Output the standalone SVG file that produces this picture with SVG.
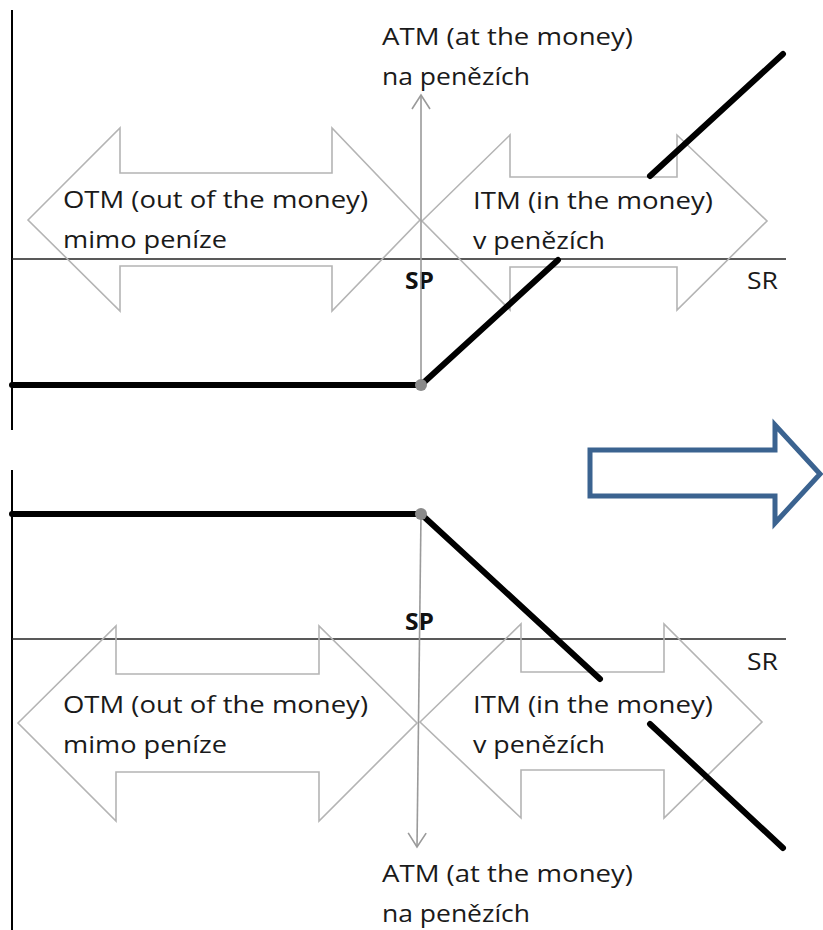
<svg xmlns="http://www.w3.org/2000/svg" width="823" height="930" viewBox="0 0 823 930">
  <style>
    .axis { stroke: #000; stroke-width: 2; fill: none; }
    .hax { stroke: #222; stroke-width: 1.6; fill: none; }
    .payoff { stroke: #000; stroke-width: 6; fill: none; stroke-linecap: round; }
    .zone { fill: none; stroke: #b4b4b4; stroke-width: 1.6; stroke-linejoin: miter; }
    .atm { stroke: #9a9a9a; stroke-width: 1.6; fill: none; }
    .dot { fill: #8a8a8a; }
    .lbl { font-family: "Open Sans", "Liberation Sans", sans-serif; font-size: 24px; fill: #1a1a1a; }
    .sp { font-family: "Open Sans", "Liberation Sans", sans-serif; font-size: 24px; font-weight: bold; fill: #111; }
    .next { fill: #fff; stroke: #3b6390; stroke-width: 5; stroke-linejoin: miter; }
  </style>
  <defs>
    <marker id="open" viewBox="0 0 20 20" refX="18" refY="10" markerWidth="20" markerHeight="20" markerUnits="userSpaceOnUse" orient="auto">
      <path d="M4,1 L18,10 L4,19" fill="none" stroke="#9a9a9a" stroke-width="1.6"/>
    </marker>
  </defs>

  <!-- upper chart: long call -->
  <g id="call-axes">
    <line class="axis" x1="12" y1="10" x2="12" y2="430"/>
    <line class="hax" x1="12" y1="259" x2="786" y2="259"/>
  </g>
  <g id="call-otm">
    <polygon class="zone" points="28,220 120,128 120,173 332,173 332,128 420,220 332,311 332,266 120,266 120,311"/>
    <text class="lbl" x="63" y="208" textLength="305" lengthAdjust="spacingAndGlyphs">OTM (out of the money)</text>
    <text class="lbl" x="63" y="248" textLength="164" lengthAdjust="spacingAndGlyphs">mimo peníze</text>
  </g>
  <g id="call-itm">
    <polygon class="zone" points="422,221 510,135 510,177 677,177 677,135 767,221 677,310 677,267 510,267 510,310"/>
    <text class="lbl" x="473" y="209" textLength="240" lengthAdjust="spacingAndGlyphs">ITM (in the money)</text>
    <text class="lbl" x="473" y="249" textLength="132" lengthAdjust="spacingAndGlyphs">v penězích</text>
  </g>
  <g id="call-atm">
    <text class="lbl" x="382" y="45" textLength="251" lengthAdjust="spacingAndGlyphs">ATM (at the money)</text>
    <text class="lbl" x="382" y="85" textLength="148" lengthAdjust="spacingAndGlyphs">na penězích</text>
  </g>
  <g id="call-labels">
    <text class="sp" x="405" y="289" textLength="29" lengthAdjust="spacingAndGlyphs">SP</text>
    <text class="lbl" x="747" y="289" textLength="31" lengthAdjust="spacingAndGlyphs">SR</text>
  </g>
  <g id="call-connectors">
    <line class="atm" x1="421" y1="385" x2="421" y2="95" marker-end="url(#open)"/>
    <line class="payoff" x1="12" y1="385" x2="421" y2="385" stroke-linecap="butt"/>
    <line class="payoff" x1="421" y1="385" x2="558" y2="260"/>
    <line class="payoff" x1="650" y1="176" x2="783" y2="54"/>
    <circle class="dot" cx="421" cy="385" r="6"/>
  </g>

  <!-- transition arrow -->
  <g id="next-arrow">
    <polygon class="next" points="590,450 775,450 775,425 820,474 775,523 775,496 590,496"/>
  </g>

  <!-- lower chart: long put -->
  <g id="put-axes">
    <line class="axis" x1="12" y1="470" x2="12" y2="930"/>
    <line class="hax" x1="12" y1="639" x2="786" y2="639"/>
  </g>
  <g id="put-otm">
    <polygon class="zone" points="18,723 116,626 116,674 319,674 319,626 417,723 319,821 319,772 116,772 116,821"/>
    <text class="lbl" x="63" y="713" textLength="305" lengthAdjust="spacingAndGlyphs">OTM (out of the money)</text>
    <text class="lbl" x="63" y="753" textLength="164" lengthAdjust="spacingAndGlyphs">mimo peníze</text>
  </g>
  <g id="put-itm">
    <polygon class="zone" points="420,722 521,624 521,672 664,672 664,624 762,722 664,818 664,770 521,770 521,818"/>
    <text class="lbl" x="473" y="713" textLength="240" lengthAdjust="spacingAndGlyphs">ITM (in the money)</text>
    <text class="lbl" x="473" y="753" textLength="132" lengthAdjust="spacingAndGlyphs">v penězích</text>
  </g>
  <g id="put-atm">
    <text class="lbl" x="382" y="882" textLength="251" lengthAdjust="spacingAndGlyphs">ATM (at the money)</text>
    <text class="lbl" x="382" y="922" textLength="148" lengthAdjust="spacingAndGlyphs">na penězích</text>
  </g>
  <g id="put-labels">
    <text class="sp" x="405" y="630" textLength="29" lengthAdjust="spacingAndGlyphs">SP</text>
    <text class="lbl" x="747" y="670" textLength="31" lengthAdjust="spacingAndGlyphs">SR</text>
  </g>
  <g id="put-connectors">
    <line class="atm" x1="421" y1="514" x2="417" y2="847" marker-end="url(#open)"/>
    <line class="payoff" x1="12" y1="514" x2="421" y2="514" stroke-linecap="butt"/>
    <line class="payoff" x1="421" y1="514" x2="600" y2="679"/>
    <line class="payoff" x1="650" y1="724" x2="783" y2="848"/>
    <circle class="dot" cx="421" cy="514" r="6"/>
  </g>
</svg>
